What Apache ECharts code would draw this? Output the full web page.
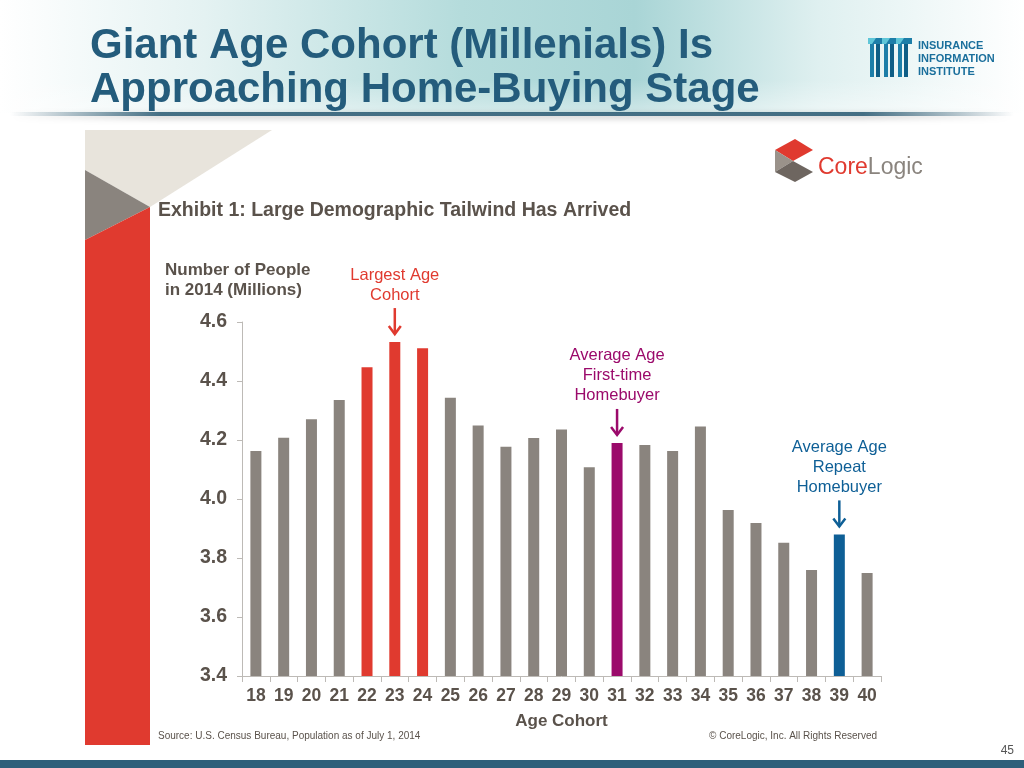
<!DOCTYPE html>
<html>
<head>
<meta charset="utf-8">
<script src="https://cdn.jsdelivr.net/npm/echarts@6/dist/echarts.min.js"></script>
<style>
html,body{margin:0;padding:0;background:#fff;}
#chart{width:1024px;height:768px;}
</style>
</head>
<body>
<div id="chart"></div>
<script>
// ---- data ----
const categories = ['18','19','20','21','22','23','24','25','26','27','28','29','30','31','32','33','34','35','36','37','38','39','40'];
const population = [4.163,4.208,4.270,4.336,4.447,4.532,4.511,4.343,4.249,4.177,4.207,4.236,4.108,4.190,4.183,4.163,4.246,3.963,3.919,3.852,3.759,3.880,3.749];
const yTicks = [3.4,3.6,3.8,4.0,4.2,4.4,4.6];
const titleLines = ['Giant Age Cohort (Millenials) Is','Approaching Home-Buying Stage'];
const exhibitTitle = 'Exhibit 1: Large Demographic Tailwind Has Arrived';
const yAxisTitle = ['Number of People','in 2014 (Millions)'];
const xAxisTitle = 'Age Cohort';
const sourceText = 'Source: U.S. Census Bureau, Population as of July 1, 2014';
const copyrightText = '\u00A9 CoreLogic, Inc. All Rights Reserved';
const pageNumber = '45';
const annotations = [
  {category:'23', lines:['Largest Age','Cohort'], kind:'largest'},
  {category:'31', lines:['Average Age','First-time','Homebuyer'], kind:'first'},
  {category:'39', lines:['Average Age','Repeat','Homebuyer'], kind:'repeat'}
];
const highlighted = {'22':'largest','23':'largest','24':'largest','31':'first','39':'repeat'};

// ---- styles ----
const COLORS = {base:'#8a847e', largest:'#e03a2f', first:'#9b0a6b', repeat:'#0e5f96'};
const TEXT = '#5a524b';
const NARROW = '"Liberation Sans Narrow", "Arial Narrow", sans-serif';
const SANS = '"Liberation Sans", Arial, sans-serif';

const chart = echarts.init(document.getElementById('chart'));

const decor = [
  // header gradient
  {type:'rect', shape:{x:0,y:0,width:1024,height:113}, silent:true,
   style:{fill:new echarts.graphic.LinearGradient(0,0,1,0,[
     {offset:0,color:'#ffffff'},{offset:0.2,color:'#e4f2f2'},{offset:0.45,color:'#b5dcdc'},
     {offset:0.62,color:'#a9d5d6'},{offset:0.8,color:'#dff0f0'},{offset:1,color:'#ffffff'}])}, z:0},
  {type:'rect', shape:{x:0,y:80,width:1024,height:33}, silent:true,
   style:{fill:new echarts.graphic.LinearGradient(0,0,0,1,[{offset:0,color:'rgba(255,255,255,0)'},{offset:1,color:'rgba(255,255,255,0.45)'}])}, z:0},
  // header separator line
  {type:'rect', shape:{x:10,y:112,width:1004,height:4}, silent:true,
   style:{fill:new echarts.graphic.LinearGradient(0,0,1,0,[
     {offset:0,color:'rgba(40,90,115,0)'},{offset:0.15,color:'rgba(40,90,115,0.85)'},
     {offset:0.85,color:'rgba(40,90,115,0.85)'},{offset:1,color:'rgba(40,90,115,0)'}]), shadowBlur:6, shadowColor:'rgba(0,0,0,0.3)', shadowOffsetY:2}, z:1},
  // title
  {type:'text', left:90, top:24, silent:true, z:5,
   style:{text:titleLines.join('\n'), fill:'#245c7c', font:'bold 42px ' + NARROW, lineHeight:44}},
  // III logo icon
  {type:'group', left:868, top:38, silent:true, z:5, children:[
    {type:'rect', shape:{x:0,y:0,width:44,height:6}, style:{fill:'#1d7ea8'}},
    {type:'polygon', shape:{points:[[0,0],[8,0],[4,6],[0,6]]}, style:{fill:'#5fc6d8'}},
    {type:'polygon', shape:{points:[[14,0],[22,0],[18,6],[14,6]]}, style:{fill:'#5fc6d8'}},
    {type:'polygon', shape:{points:[[28,0],[36,0],[32,6],[28,6]]}, style:{fill:'#5fc6d8'}},
    {type:'rect', shape:{x:2,y:6,width:4,height:33}, style:{fill:'#1d7ea8'}},
    {type:'rect', shape:{x:8,y:6,width:4,height:33}, style:{fill:'#0f5e86'}},
    {type:'rect', shape:{x:16,y:6,width:4,height:33}, style:{fill:'#1d7ea8'}},
    {type:'rect', shape:{x:22,y:6,width:4,height:33}, style:{fill:'#0f5e86'}},
    {type:'rect', shape:{x:30,y:6,width:4,height:33}, style:{fill:'#1d7ea8'}},
    {type:'rect', shape:{x:36,y:6,width:4,height:33}, style:{fill:'#0f5e86'}}
  ]},
  {type:'text', left:918, top:39, silent:true, z:5,
   style:{text:'INSURANCE\nINFORMATION\nINSTITUTE', fill:'#1a6f9c', font:'bold 11px ' + SANS, lineHeight:13}},
  // left decorative panel
  {type:'polygon', shape:{points:[[85,130],[272,130],[150,207],[85,170]]}, style:{fill:'#e8e4dc'}, silent:true, z:1},
  {type:'polygon', shape:{points:[[85,170],[150,207],[85,240]]}, style:{fill:'#8a847e'}, silent:true, z:1},
  {type:'polygon', shape:{points:[[85,240],[150,207],[150,745],[85,745]]}, style:{fill:'#e03a2f'}, silent:true, z:1},
  // CoreLogic logo
  {type:'group', left:775, top:139, silent:true, z:5, children:[
    {type:'polygon', shape:{points:[[0,11],[20,0],[38,11],[18,22]]}, style:{fill:'#e03a2f'}},
    {type:'polygon', shape:{points:[[0,11],[18,22],[0,33]]}, style:{fill:'#9a928a'}},
    {type:'polygon', shape:{points:[[0,33],[18,22],[38,33],[20,43]]}, style:{fill:'#6e6660'}},
    {type:'text', x:43, y:17, style:{text:'{a|Core}{b|Logic}', rich:{a:{fill:'#e03a2f',font:'23px ' + SANS},b:{fill:'#8a847e',font:'23px ' + SANS}}}}
  ]},
  // exhibit title
  {type:'text', left:158, top:201, silent:true, z:5,
   style:{text:exhibitTitle, fill:TEXT, font:'bold 19.5px ' + NARROW}},
  {type:'text', left:165, top:260, silent:true, z:5,
   style:{text:yAxisTitle.join('\n'), fill:TEXT, font:'bold 17px ' + NARROW, lineHeight:20}},
  // footer
  {type:'text', left:158, top:731, silent:true, z:5,
   style:{text:sourceText, fill:TEXT, font:'10px ' + NARROW}},
  {type:'text', right:147, top:731, silent:true, z:5,
   style:{text:copyrightText, fill:TEXT, font:'10px ' + NARROW}},
  {type:'text', right:10, top:745, silent:true, z:5,
   style:{text:pageNumber, fill:'#555', font:'12px ' + NARROW}},
  {type:'rect', shape:{x:0,y:760,width:1024,height:8}, style:{fill:'#2d5f7a'}, silent:true, z:1}
];

const option = {
  animation:false,
  backgroundColor:'#ffffff',
  grid:{left:242, right:143, top:322, bottom:92, containLabel:false},
  xAxis:{
    type:'category', data:categories,
    name:xAxisTitle, nameLocation:'middle', nameGap:37,
    nameTextStyle:{color:TEXT, fontFamily:NARROW, fontWeight:'bold', fontSize:17},
    axisLine:{lineStyle:{color:'#bdbab6', width:1}},
    axisTick:{show:true, length:6, lineStyle:{color:'#bdbab6'}},
    axisLabel:{color:TEXT, fontFamily:NARROW, fontWeight:'bold', fontSize:17.5, margin:11, interval:0}
  },
  yAxis:{
    type:'value', min:3.4, max:4.6, interval:0.2,
    axisLine:{show:true, lineStyle:{color:'#bdbab6'}},
    axisTick:{show:true, length:5, lineStyle:{color:'#bdbab6'}},
    splitLine:{show:false},
    axisLabel:{color:TEXT, fontFamily:SANS, fontWeight:'bold', fontSize:19.5, margin:15,
      formatter:function(v){ const t = yTicks.find(x=>Math.abs(x-v)<1e-6); return t!==undefined ? t.toFixed(1) : ''; }}
  },
  series:[{
    type:'bar', barWidth:11,
    data:population.map((v,i)=>({value:v, itemStyle:{color: COLORS[highlighted[categories[i]]||'base']}})),
    z:3
  }],
  graphic:decor
};
chart.setOption(option);

// annotations anchored to data via the chart's scales
const extra = [];
annotations.forEach(a=>{
  const idx = categories.indexOf(a.category);
  const p = chart.convertToPixel({seriesIndex:0}, [idx, population[idx]]);
  const col = COLORS[a.kind];
  const tip = p[1]-8, tail = tip-26;
  extra.push({type:'polyline', silent:true, z:6, shape:{points:[[p[0],tail],[p[0],tip]]}, style:{stroke:col, lineWidth:2.5}});
  extra.push({type:'polyline', silent:true, z:6, shape:{points:[[p[0]-6,tip-8],[p[0],tip],[p[0]+6,tip-8]]}, style:{stroke:col, lineWidth:2.5, fill:null}});
  const n = a.lines.length, lh = 20;
  extra.push({type:'text', silent:true, z:6, x:p[0], y:tail-14-(n-1)*lh-9,
    style:{text:a.lines.join('\n'), fill:col, font:'16.5px ' + SANS, lineHeight:lh, align:'center', verticalAlign:'top'}});
});
chart.setOption({graphic: decor.concat(extra)});
</script>
</body>
</html>
